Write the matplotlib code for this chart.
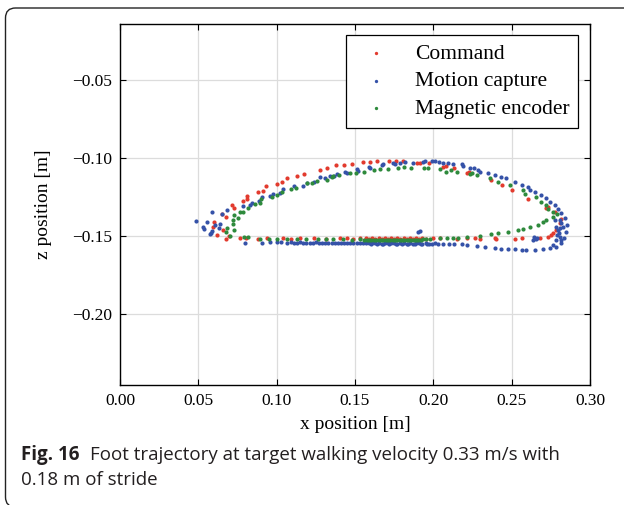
"""Foot trajectory (command / motion capture / magnetic encoder), Fig. 16."""
import matplotlib

matplotlib.use("Agg")
import matplotlib.pyplot as plt
from matplotlib.patches import FancyBboxPatch

# ---- data: x / z positions [m] ----
cmd_x = [0.0676, 0.0697, 0.0621, 0.0659, 0.0595, 0.0600, 0.0649, 0.0676, 0.0713, 0.0730,
         0.0783, 0.0808, 0.0812, 0.0883, 0.0914, 0.0930, 0.1004, 0.1036, 0.1063, 0.1131,
         0.1172, 0.1276, 0.1321, 0.1378, 0.1431, 0.1478, 0.1548, 0.1595, 0.1642, 0.1718,
         0.1759, 0.1808, 0.1893, 0.1918, 0.1970, 0.2063, 0.2080, 0.2131, 0.2218, 0.2228,
         0.2371, 0.2440, 0.2499, 0.2605, 0.2722, 0.2733, 0.2775, 0.2818, 0.2807, 0.2786,
         0.2765, 0.2754, 0.2733, 0.2680,
         0.0766, 0.0804, 0.0880, 0.0936, 0.1042, 0.1089, 0.1148, 0.1238, 0.1314, 0.1404,
         0.1446, 0.1488, 0.1531, 0.1570, 0.1590, 0.1610, 0.1630, 0.1650, 0.1670, 0.1690,
         0.1710, 0.1730, 0.1750, 0.1770, 0.1790, 0.1810, 0.1830, 0.1850, 0.1870, 0.1890,
         0.1910, 0.1930, 0.1950, 0.1999, 0.2042, 0.2148, 0.2212, 0.2265, 0.2297, 0.2393,
         0.2403, 0.2520, 0.2563]
cmd_z = [-0.1521, -0.1500, -0.1494, -0.1462, -0.1444, -0.1408, -0.1359, -0.1376, -0.1301, -0.1323,
         -0.1274, -0.1265, -0.1242, -0.1220, -0.1210, -0.1179, -0.1169, -0.1156, -0.1130, -0.1115,
         -0.1105, -0.1077, -0.1066, -0.1045, -0.1043, -0.1036, -0.1024, -0.1024, -0.1019, -0.1017,
         -0.1017, -0.1019, -0.1030, -0.1030, -0.1034, -0.1056, -0.1049, -0.1066, -0.1094, -0.1088,
         -0.1141, -0.1170, -0.1205, -0.1265, -0.1322, -0.1312, -0.1344, -0.1393, -0.1419, -0.1462,
         -0.1483, -0.1494, -0.1504, -0.1515,
         -0.1515, -0.1513, -0.1517, -0.1515, -0.1513, -0.1517, -0.1515, -0.1513, -0.1517, -0.1515,
         -0.1513, -0.1517, -0.1515, -0.1513, -0.1516, -0.1514, -0.1517, -0.1513, -0.1516, -0.1514,
         -0.1517, -0.1513, -0.1516, -0.1514, -0.1517, -0.1513, -0.1516, -0.1514, -0.1517, -0.1513,
         -0.1516, -0.1514, -0.1517, -0.1515, -0.1513, -0.1517, -0.1515, -0.1513, -0.1517, -0.1515,
         -0.1517, -0.1517, -0.1515]

mocap_x = [0.0485, 0.0553, 0.0532, 0.0536, 0.0575, 0.0579, 0.0589, 0.0585, 0.0606, 0.0634,
           0.0638, 0.0649, 0.0685, 0.0783, 0.0829, 0.0840, 0.0887, 0.0904, 0.0957, 0.0978,
           0.1021, 0.1038, 0.1110, 0.1170, 0.1191, 0.1238, 0.1276, 0.1308, 0.1340, 0.1365,
           0.1387, 0.1436, 0.1446, 0.1510, 0.1521, 0.1591, 0.1597, 0.1670, 0.1680, 0.1740,
           0.1755, 0.1787, 0.1819, 0.1868, 0.1931, 0.1946, 0.1989, 0.2010, 0.2037, 0.2063,
           0.2095, 0.2127, 0.2180, 0.2190, 0.2233, 0.2259, 0.2286, 0.2297, 0.2350, 0.2393,
           0.2435, 0.2467, 0.2520, 0.2563, 0.2605, 0.2616, 0.2648, 0.2690, 0.2722, 0.2743,
           0.2775, 0.2797, 0.2818, 0.2840, 0.2850, 0.2846, 0.2833, 0.2818, 0.2786, 0.2743,
           0.2701, 0.2648, 0.2594, 0.2563, 0.2520, 0.2477, 0.2435, 0.2393, 0.2329, 0.2276,
           0.2212, 0.2180,
           0.2786, 0.2797, 0.2791, 0.2807, 0.2786, 0.2765, 0.2807, 0.2818, 0.2807, 0.2775,
           0.2641, 0.2654, 0.2637, 0.2660, 0.2800, 0.2825, 0.2815,
           0.1903, 0.1914,
           0.0798, 0.0904, 0.0955, 0.1004, 0.1030, 0.1063, 0.1090, 0.1110, 0.1130, 0.1150,
           0.1170, 0.1190, 0.1210, 0.1230, 0.1250, 0.1270, 0.1290, 0.1310, 0.1330, 0.1350,
           0.1370, 0.1390, 0.1410, 0.1430, 0.1450, 0.1470, 0.1490, 0.1510, 0.1530, 0.1550,
           0.1570, 0.1590, 0.1610, 0.1630, 0.1650, 0.1670, 0.1690, 0.1710, 0.1730, 0.1750,
           0.1770, 0.1790, 0.1810, 0.1830, 0.1850, 0.1870, 0.1890, 0.1910, 0.1930, 0.1950,
           0.1970, 0.1990, 0.2010, 0.2030, 0.2060, 0.2100, 0.2130,
           0.1600, 0.1640, 0.1680, 0.1720, 0.1760, 0.1800, 0.1840, 0.1880, 0.1920, 0.1960]
mocap_z = [-0.1404, -0.1408, -0.1440, -0.1457, -0.1490, -0.1483, -0.1466, -0.1344, -0.1429, -0.1451,
           -0.1423, -0.1359, -0.1333, -0.1308, -0.1301, -0.1291, -0.1274, -0.1252, -0.1242, -0.1231,
           -0.1222, -0.1201, -0.1179, -0.1179, -0.1158, -0.1152, -0.1124, -0.1130, -0.1115, -0.1115,
           -0.1103, -0.1088, -0.1098, -0.1072, -0.1081, -0.1060, -0.1062, -0.1045, -0.1038, -0.1034,
           -0.1038, -0.1030, -0.1028, -0.1030, -0.1024, -0.1019, -0.1019, -0.1019, -0.1024, -0.1030,
           -0.1034, -0.1038, -0.1038, -0.1051, -0.1066, -0.1066, -0.1077, -0.1088, -0.1098, -0.1109,
           -0.1120, -0.1130, -0.1152, -0.1173, -0.1184, -0.1205, -0.1216, -0.1237, -0.1258, -0.1280,
           -0.1301, -0.1329, -0.1354, -0.1387, -0.1429, -0.1472, -0.1515, -0.1547, -0.1569, -0.1579,
           -0.1586, -0.1590, -0.1590, -0.1590, -0.1586, -0.1586, -0.1581, -0.1579, -0.1573, -0.1564,
           -0.1558, -0.1551,
           -0.1440, -0.1462, -0.1494, -0.1504, -0.1526, -0.1558, -0.1451, -0.1419, -0.1397, -0.1397,
           -0.1504, -0.1521, -0.1526, -0.1510, -0.1480, -0.1440, -0.1525,
           -0.1476, -0.1468,
           -0.1543, -0.1543, -0.1537, -0.1537, -0.1541, -0.1543, -0.1540, -0.1542, -0.1544, -0.1541,
           -0.1543, -0.1545, -0.1542, -0.1544, -0.1541, -0.1543, -0.1545, -0.1542, -0.1544, -0.1546,
           -0.1543, -0.1545, -0.1542, -0.1544, -0.1546, -0.1543, -0.1545, -0.1547, -0.1544, -0.1546,
           -0.1543, -0.1545, -0.1547, -0.1544, -0.1546, -0.1548, -0.1545, -0.1547, -0.1544, -0.1546,
           -0.1548, -0.1545, -0.1547, -0.1549, -0.1546, -0.1548, -0.1545, -0.1547, -0.1549, -0.1546,
           -0.1548, -0.1550, -0.1547, -0.1549, -0.1551, -0.1553, -0.1552,
           -0.1551, -0.1552, -0.1551, -0.1553, -0.1552, -0.1551, -0.1553, -0.1552, -0.1551, -0.1553]

enc_x = [0.0702, 0.0676, 0.0681, 0.0727, 0.0723, 0.0719, 0.0730, 0.0751, 0.0766, 0.0787,
         0.0815, 0.0861, 0.0893, 0.0900, 0.0968, 0.1004, 0.1031, 0.1089, 0.1123, 0.1191,
         0.1227, 0.1259, 0.1323, 0.1351, 0.1361, 0.1399, 0.1467, 0.1506, 0.1559, 0.1621,
         0.1659, 0.1712, 0.1776, 0.1812, 0.1857, 0.1942, 0.1963, 0.2042, 0.2084, 0.2110,
         0.2148, 0.2233, 0.2244, 0.2276, 0.2361, 0.2414, 0.2488, 0.2573, 0.2584, 0.2658,
         0.2690, 0.2722, 0.2733, 0.2765, 0.2790, 0.2765, 0.2722, 0.2700, 0.2669, 0.2616,
         0.2573, 0.2541, 0.2477, 0.2414, 0.2371, 0.2297, 0.2212,
         0.0791, 0.0819, 0.0893, 0.0950, 0.1004, 0.1063, 0.1127, 0.1187, 0.1265, 0.1314,
         0.1361, 0.1425, 0.1478, 0.1531, 0.1560, 0.1575, 0.1590, 0.1605, 0.1620, 0.1635,
         0.1650, 0.1665, 0.1680, 0.1695, 0.1710, 0.1725, 0.1740, 0.1755, 0.1770, 0.1785,
         0.1800, 0.1815, 0.1830, 0.1845, 0.1860, 0.1875, 0.1890, 0.1905, 0.1920, 0.1935,
         0.1950, 0.1980, 0.2042, 0.2090, 0.2127, 0.2160]
enc_z = [-0.1500, -0.1472, -0.1451, -0.1462, -0.1423, -0.1397, -0.1365, -0.1387, -0.1344, -0.1344,
         -0.1322, -0.1295, -0.1291, -0.1265, -0.1248, -0.1237, -0.1216, -0.1201, -0.1190, -0.1162,
         -0.1158, -0.1145, -0.1141, -0.1120, -0.1115, -0.1109, -0.1098, -0.1094, -0.1088, -0.1077,
         -0.1071, -0.1071, -0.1066, -0.1060, -0.1062, -0.1066, -0.1062, -0.1072, -0.1088, -0.1077,
         -0.1088, -0.1103, -0.1098, -0.1109, -0.1130, -0.1152, -0.1173, -0.1205, -0.1231, -0.1248,
         -0.1280, -0.1301, -0.1329, -0.1344, -0.1360, -0.1380, -0.1397, -0.1408, -0.1429, -0.1444,
         -0.1457, -0.1462, -0.1472, -0.1483, -0.1489, -0.1498, -0.1504,
         -0.1508, -0.1508, -0.1521, -0.1519, -0.1521, -0.1519, -0.1521, -0.1520, -0.1522, -0.1521,
         -0.1522, -0.1521, -0.1523, -0.1522, -0.1524, -0.1525, -0.1524, -0.1526, -0.1525, -0.1524,
         -0.1526, -0.1525, -0.1524, -0.1526, -0.1525, -0.1524, -0.1526, -0.1525, -0.1524, -0.1526,
         -0.1525, -0.1524, -0.1526, -0.1525, -0.1524, -0.1526, -0.1525, -0.1524, -0.1523, -0.1522,
         -0.1521, -0.1519, -0.1515, -0.1513, -0.1511, -0.1510]

series = [("Command", cmd_x, cmd_z, "#e23b2e"),
          ("Motion capture", mocap_x, mocap_z, "#3552a8"),
          ("Magnetic encoder", enc_x, enc_z, "#2e8a3c")]

x_ticks = [0.00, 0.05, 0.10, 0.15, 0.20, 0.25, 0.30]
z_ticks = [-0.05, -0.10, -0.15, -0.20]

W, H = 624, 505
fig = plt.figure(figsize=(W / 100, H / 100), dpi=100)
ax = fig.add_axes([120 / W, 1 - 385 / H, 470 / W, 361 / H])

serif = "Liberation Serif"
for name, xs, zs, col in series:
    ax.scatter(xs, zs, s=9, c=col, linewidths=0, label=name, zorder=3)

ax.set_xlim(0.0, 0.30)
ax.set_ylim(-0.2455, -0.0141)
ax.set_xticks(x_ticks)
ax.set_yticks(z_ticks)
ax.set_xticklabels([f"{v:.2f}" for v in x_ticks], family=serif, fontsize=12.5)
ax.set_yticklabels([f"{v:.2f}".replace("-", "\u2212") for v in z_ticks],
                   family=serif, fontsize=12.5)
ax.tick_params(direction="in", length=4, width=0.8, top=True, right=True, pad=6)
ax.grid(True, color="#dcdcdc", lw=0.9)
ax.set_axisbelow(True)
for sp in ax.spines.values():
    sp.set_linewidth(1.0)
ax.set_xlabel("x position [m]", family=serif, fontsize=14, labelpad=5)
ax.set_ylabel("z position [m]", family=serif, fontsize=14, labelpad=14)

leg = ax.legend(loc="upper right", bbox_to_anchor=(0.9745, 0.9695), borderaxespad=0,
                fancybox=False, framealpha=1, edgecolor="black", scatterpoints=1,
                markerscale=0.8, prop={"family": serif, "size": 15.5}, labelspacing=0.35,
                handlelength=2.0, handletextpad=0.8, borderpad=0.4)
leg.get_frame().set_linewidth(0.9)

# rounded frame (right and bottom edges run off the image)
frame = FancyBboxPatch((0.055, -0.02), 6.5, 4.99,
                       boxstyle="round,pad=0,rounding_size=0.10",
                       transform=fig.dpi_scale_trans, fill=False, ec="#222222", lw=1.0)
fig.patches.append(frame)

cap_font = "Open Sans"
cap_col = "#231f20"
t1 = fig.text(21 / W, 1 - 455 / H, "Fig. 16", family=cap_font, weight="bold",
              fontsize=13.5, va="center", ha="left", color=cap_col)
fig.canvas.draw()
bb = t1.get_window_extent()
fig.text((bb.x1 + 10) / W, 1 - 455 / H,
         "Foot trajectory at target walking velocity 0.33 m/s with",
         family=cap_font, fontsize=13.5, va="center", ha="left", color=cap_col)
fig.text(21 / W, 1 - 480 / H, "0.18 m of stride", family=cap_font, fontsize=13.5,
         va="center", ha="left", color=cap_col)

fig.savefig("out.png", dpi=100)
